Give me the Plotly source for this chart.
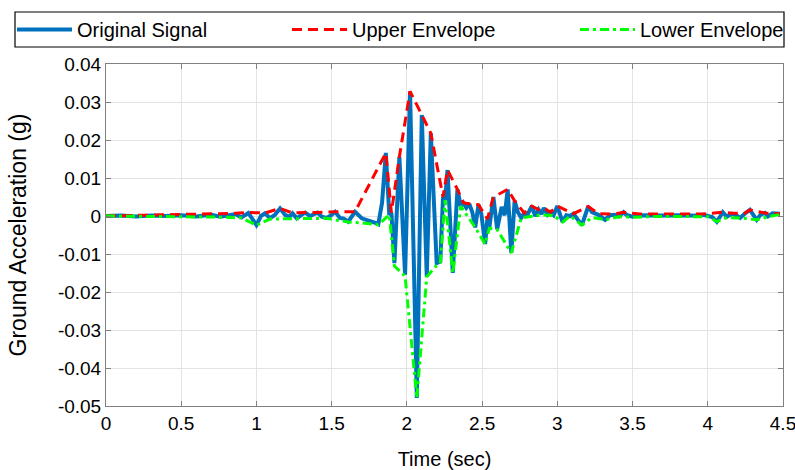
import plotly.graph_objects as go

# ---------------- data ----------------
sig_t = [0.00, 0.10, 0.20, 0.30, 0.40, 0.50, 0.60, 0.70, 0.76, 0.82, 0.86, 0.90, 0.946,
         1.00, 1.03, 1.057, 1.09, 1.12, 1.157, 1.19, 1.22, 1.24, 1.268, 1.30, 1.323, 1.356,
         1.39, 1.405, 1.434, 1.467, 1.50, 1.523, 1.555, 1.58, 1.61, 1.655, 1.70, 1.735, 1.76,
         1.79, 1.81, 1.835, 1.86, 1.883, 1.897, 1.917, 1.95, 1.988, 2.021, 2.066, 2.099, 2.132,
         2.159, 2.198, 2.222, 2.24, 2.254, 2.27, 2.305, 2.336, 2.358, 2.375, 2.395, 2.415,
         2.435, 2.454, 2.476, 2.495, 2.52, 2.535, 2.548, 2.575, 2.60, 2.63, 2.65, 2.67, 2.694,
         2.716, 2.738, 2.76, 2.78, 2.80, 2.83, 2.853, 2.875, 2.895, 2.91, 2.935, 2.955, 2.975,
         3.00, 3.035, 3.06, 3.085, 3.107, 3.13, 3.163, 3.205, 3.23, 3.273, 3.318, 3.35, 3.38,
         3.41, 3.44, 3.46, 3.50, 3.55, 3.60, 3.70, 3.80, 3.90, 3.97, 4.005, 4.03, 4.06, 4.10,
         4.127, 4.16, 4.19, 4.215, 4.245, 4.28, 4.325, 4.35, 4.38, 4.40, 4.43, 4.46, 4.48]
sig_a = [0.0000, 0.0001, -0.0001, 0.0001, 0.0000, 0.0002, -0.0001, 0.0003, -0.0002, 0.0001,
         0.0005, -0.0004, 0.0008, -0.0024, 0.0000, 0.0007, -0.0006, 0.0002, 0.0020, 0.0003,
         -0.0002, 0.0007, -0.0006, 0.0003, 0.0009, 0.0000, 0.0006, 0.0009, -0.0002, -0.0005,
         0.0003, 0.0011, -0.0005, -0.0007, -0.0015, 0.0011, -0.0006, -0.0010, -0.0012, -0.0018,
         -0.0022, 0.0035, 0.0166, 0.0003, 0.0009, -0.0124, 0.0156, -0.0155, 0.0328, -0.0479,
         0.0266, -0.0160, 0.0218, -0.0124, -0.0120, 0.0050, 0.0042, 0.0121, -0.0150, 0.0070,
         0.0026, 0.0035, 0.0022, 0.0032, 0.0010, -0.0030, 0.0030, 0.0005, -0.0074, -0.0008,
         -0.0030, 0.0050, -0.0035, 0.0024, 0.0002, 0.0070, -0.0097, 0.0040, 0.0010, -0.0005,
         0.0008, 0.0002, 0.0026, 0.0000, 0.0017, 0.0005, 0.0021, 0.0003, 0.0010, 0.0002,
         0.0026, -0.0016, 0.0002, 0.0000, 0.0006, -0.0005, -0.0024, 0.0025, 0.0010, 0.0003,
         -0.0010, 0.0002, 0.0003, -0.0001, 0.0010, 0.0003, -0.0002, 0.0002, 0.0001, 0.0001,
         0.0002, 0.0001, 0.0003, -0.0001, -0.0003, -0.0015, 0.0010, -0.0002, 0.0006, 0.0002,
         -0.0005, 0.0006, 0.0016, -0.0010, 0.0003, 0.0008, -0.0001, 0.0007, 0.0005, 0.0006]

up_t = [0.00, 0.30, 0.50, 0.70, 0.86, 0.946, 1.057, 1.157, 1.24, 1.323, 1.405, 1.523, 1.655,
        1.86, 1.897, 1.95, 2.021, 2.099, 2.159, 2.24, 2.27, 2.336, 2.375, 2.415, 2.476, 2.535,
        2.575, 2.67, 2.716, 2.78, 2.83, 2.875, 2.91, 2.955, 3.00, 3.107, 3.205, 3.273, 3.38,
        3.44, 3.55, 3.80, 3.97, 4.10, 4.16, 4.245, 4.28, 4.38, 4.43, 4.48]
up_a = [0.0000, 0.0002, 0.0003, 0.0005, 0.0007, 0.0009, 0.0008, 0.0020, 0.0008, 0.0009,
        0.0009, 0.0011, 0.0011, 0.0166, 0.0009, 0.0156, 0.0328, 0.0266, 0.0218, 0.0050,
        0.0121, 0.0070, 0.0035, 0.0032, 0.0030, -0.0008, 0.0050, 0.0070, 0.0040, 0.0008,
        0.0026, 0.0017, 0.0021, 0.0010, 0.0026, 0.0006, 0.0025, 0.0006, 0.0005, 0.0010,
        0.0005, 0.0005, 0.0005, 0.0010, 0.0007, 0.0007, 0.0016, 0.0008, 0.0007, 0.0006]

lo_t = [0.00, 0.30, 0.60, 0.76, 0.90, 1.00, 1.09, 1.22, 1.268, 1.467, 1.61, 1.70, 1.81,
        1.883, 1.917, 1.988, 2.066, 2.132, 2.198, 2.222, 2.254, 2.305, 2.358, 2.454, 2.52,
        2.548, 2.60, 2.694, 2.76, 2.853, 2.895, 2.935, 2.975, 3.035, 3.085, 3.163, 3.23,
        3.318, 3.41, 3.50, 3.70, 4.005, 4.06, 4.127, 4.215, 4.325, 4.40, 4.48]
lo_a = [0.0000, -0.0001, -0.0002, -0.0003, -0.0005, -0.0024, -0.0008, -0.0006, -0.0007,
        -0.0006, -0.0016, -0.0018, -0.0023, 0.0003, -0.0132, -0.0158, -0.0479, -0.0160,
        -0.0130, -0.0125, 0.0042, -0.0150, 0.0026, -0.0030, -0.0074, -0.0032, -0.0036,
        -0.0097, -0.0005, 0.0000, 0.0003, 0.0002, 0.0001, -0.0016, 0.0000, -0.0024, -0.0004,
        -0.0010, -0.0002, -0.0003, -0.0001, -0.0002, -0.0015, -0.0004, -0.0005, -0.0010,
        -0.0002, 0.0004]

x_ticks = [0, 0.5, 1, 1.5, 2, 2.5, 3, 3.5, 4, 4.5]
x_labels = ["0", "0.5", "1", "1.5", "2", "2.5", "3", "3.5", "4", "4.5"]
y_ticks = [0.04, 0.03, 0.02, 0.01, 0, -0.01, -0.02, -0.03, -0.04, -0.05]
y_labels = ["0.04", "0.03", "0.02", "0.01", "0", "-0.01", "-0.02", "-0.03", "-0.04", "-0.05"]

FONT = "Liberation Sans, Arial, Helvetica, sans-serif"

# plot-area geometry (pixels)
W, H = 795, 470
L, R, T, B = 106, 12, 64, 64
PW, PH = W - L - R, H - T - B


def px_x(p):
    return (p - L) / PW


def px_y(p):
    return (H - B - p) / PH


fig = go.Figure()
fig.add_trace(go.Scatter(x=sig_t, y=sig_a, mode="lines", name="Original Signal",
                         line=dict(color="#0072BD", width=4), legend="legend"))
fig.add_trace(go.Scatter(x=up_t, y=up_a, mode="lines", name="Upper Envelope",
                         line=dict(color="#FF0000", width=3, dash="10px,6px"), legend="legend2"))
fig.add_trace(go.Scatter(x=lo_t, y=lo_a, mode="lines", name="Lower Envelope",
                         line=dict(color="#00FF00", width=3, dash="9px,4px,3px,4px"), legend="legend3"))

axis_common = dict(showgrid=True, gridcolor="#e3e3e3", gridwidth=1, zeroline=False,
                   showline=True, linecolor="#808080", linewidth=1, mirror="ticks",
                   ticks="inside", ticklen=5, tickcolor="#808080", automargin=False,
                   ticklabeloverflow="allow",
                   tickfont=dict(family=FONT, size=19, color="black"))

leg_common = dict(orientation="h", xanchor="left", yanchor="middle", y=px_y(29.5),
                  bgcolor="rgba(0,0,0,0)", borderwidth=0, itemwidth=55,
                  font=dict(family=FONT, size=20, color="black"))

fig.update_layout(
    width=W, height=H,
    margin=dict(l=L, r=R, t=T, b=B, autoexpand=False),
    paper_bgcolor="white", plot_bgcolor="white",
    font=dict(family=FONT, size=19, color="black"),
    xaxis=dict(range=[0, 4.5], tickvals=x_ticks, ticktext=x_labels,
               title=dict(text="Time (sec)", font=dict(family=FONT, size=20), standoff=24),
               **axis_common),
    yaxis=dict(range=[-0.05, 0.04], tickvals=y_ticks, ticktext=y_labels,
               title=dict(text="Ground Acceleration (g)", font=dict(family=FONT, size=23), standoff=24),
               **axis_common),
    legend=dict(x=px_x(12), **leg_common),
    legend2=dict(x=px_x(287), **leg_common),
    legend3=dict(x=px_x(575), **leg_common),
    shapes=[dict(type="rect", xref="paper", yref="paper",
                 x0=px_x(15), x1=px_x(784), y0=px_y(47), y1=px_y(12),
                 line=dict(color="black", width=1.2), fillcolor="white", layer="below")],
    showlegend=True,
)

fig.write_html("out.html")
